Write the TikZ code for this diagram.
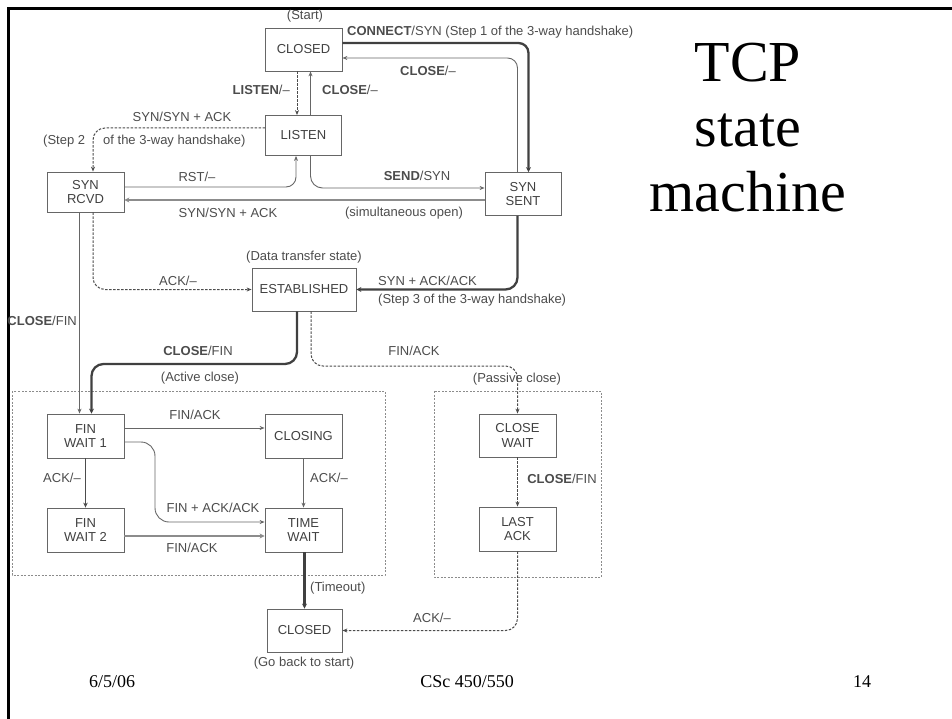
\documentclass[tikz,border=0pt]{standalone}
\usepackage{fontspec}
\setmainfont{Liberation Serif}
\setsansfont{Liberation Sans}
\usetikzlibrary{arrows.meta}
\begin{document}
\begin{tikzpicture}[x=1pt,y=-1pt,
  st/.style={draw=black!60, line width=0.8pt, minimum width=77pt, minimum height=43pt, inner sep=1pt,
    font=\sffamily\fontsize{13}{14.5}\selectfont, text=black!75, align=center},
  lbl/.style={font=\sffamily\fontsize{13}{14.5}\selectfont, text=black!70, inner sep=0pt},
  thinarr/.style={draw=black!60, line width=0.9pt, -{Stealth[length=5pt,width=4pt]}},
  medarr/.style={draw=black!70, line width=1.4pt, -{Stealth[length=5pt,width=4.5pt]}},
  thickarr/.style={draw=black!75, line width=2.3pt, -{Stealth[length=5pt,width=5pt]}},
  simarr/.style={draw=black!45, line width=2.5pt, -{Stealth[length=5pt,width=5pt]}},
  dasharr/.style={draw=black!70, line width=1pt, dash pattern=on 2.5pt off 1.5pt, -{Stealth[length=5pt,width=4pt]}},
  zonebox/.style={draw=black!45, line width=0.7pt, dash pattern=on 2pt off 1.5pt},
]
\useasboundingbox (0,0) rectangle (952,719);
% slide frame
\draw[line width=3pt] (8.5,722) -- (8.5,8.5) -- (955,8.5);

% zones
\draw[zonebox] (12,391) rectangle (385,575);
\draw[zonebox] (434,391) rectangle (601,577);

% states
\node[st] (closedT) at (303.5,49.5) {CLOSED};
\node[st, minimum width=76pt, minimum height=40pt] (listen) at (303.5,135.5) {LISTEN};
\node[st, minimum height=40pt] (synrcvd) at (85.5,192) {SYN\\RCVD};
\node[st, minimum width=76pt] (synsent) at (523,194) {SYN\\SENT};
\node[st, minimum width=104pt] (estab) at (304,289.5) {ESTABLISHED};
\node[st, minimum height=44pt] (finw1) at (85.5,436) {FIN\\WAIT 1};
\node[st, minimum height=44pt] (closing) at (303.5,436) {CLOSING};
\node[st, minimum height=44pt] (finw2) at (85.5,530) {FIN\\WAIT 2};
\node[st, minimum height=44pt] (timewait) at (303.5,530) {TIME\\WAIT};
\node[st] (closewait) at (517.5,435.5) {CLOSE\\WAIT};
\node[st, minimum height=44pt] (lastack) at (517.5,529) {LAST\\ACK};
\node[st, minimum width=75pt] (closedB) at (304.5,630.5) {CLOSED};

% transitions
\draw[thickarr, rounded corners=10pt] ([yshift=6.5pt]closedT.east) -- (528.5,43) -- ([xshift=5.5pt]synsent.north);
\draw[thinarr, rounded corners=10pt] ([xshift=-5.5pt]synsent.north) -- (517.5,58) -- ([yshift=-8.5pt]closedT.east);
\draw[dasharr] ([xshift=-6.5pt]closedT.south) -- ([xshift=-6.5pt]listen.north);
\draw[thinarr] ([xshift=7pt]listen.north) -- ([xshift=7pt]closedT.south);
\draw[dasharr, rounded corners=12pt] ([yshift=7.5pt]listen.west) -- (93,128) -- ([xshift=7.5pt]synrcvd.north);
\draw[thinarr, rounded corners=10pt] ([yshift=5pt]synrcvd.east) -- (296,187) -- ([xshift=-7.5pt]listen.south);
\draw[thinarr, rounded corners=12pt] ([xshift=7pt]listen.south) -- (310.5,188) -- ([yshift=6pt]synsent.west);
\draw[simarr] ([yshift=-6pt]synsent.west) -- ([yshift=-8pt]synrcvd.east);
\draw[dasharr, rounded corners=12pt] ([xshift=7.5pt]synrcvd.south) -- (93,289.5) -- (estab.west);
\draw[thinarr] ([xshift=-6pt]synrcvd.south) -- ([xshift=-6pt]finw1.north);
\draw[thickarr, rounded corners=12pt] ([xshift=-5.5pt]synsent.south) -- (517.5,289.5) -- (estab.east);
\draw[thickarr, rounded corners=12pt] ([xshift=-7pt]estab.south) -- (297,364) -- (91.5,364) -- ([xshift=6pt]finw1.north);
\draw[dasharr, rounded corners=12pt] ([xshift=7pt]estab.south) -- (311,366) -- (517.5,366) -- (closewait.north);
\draw[thinarr] ([yshift=8pt]finw1.east) -- ([yshift=8pt]closing.west);
\draw[thinarr, rounded corners=14pt] ([yshift=-6pt]finw1.east) -- (155,442) -- (155,522) -- ([yshift=8pt]timewait.west);
\draw[medarr] (finw1.south) -- (finw2.north);
\draw[thinarr] (closing.south) -- (timewait.north);
\draw[simarr] ([yshift=-6pt]finw2.east) -- ([yshift=-6pt]timewait.west);
\draw[thickarr] ([xshift=1pt]timewait.south) -- (closedB.north);
\draw[dasharr] (closewait.south) -- (lastack.north);
\draw[dasharr, rounded corners=12pt] (lastack.south) -- (517.5,630.5) -- (closedB.east);

% labels
\node[lbl] (lstart) at (305,16) {(Start)};
\node[lbl, anchor=west] (lconnect) at (347,32) {\textbf{CONNECT}/SYN (Step 1 of the 3-way handshake)};
\node[lbl] (lclose1) at (428,71) {\textbf{CLOSE}/–};
\node[lbl, anchor=east] (llisten) at (290,90) {\textbf{LISTEN}/–};
\node[lbl, anchor=west] (lclose2) at (322,90) {\textbf{CLOSE}/–};
\node[lbl] (lsynsyn1) at (182,117) {SYN/SYN + ACK};
\node[lbl, anchor=west] (lstep2a) at (43,141) {(Step 2};
\node[lbl, anchor=west] (lstep2b) at (103,141) {of the 3-way handshake)};
\node[lbl] (lrst) at (197,177) {RST/–};
\node[lbl] (lsynsyn2) at (228,213) {SYN/SYN + ACK};
\node[lbl] (lsend) at (417,176) {\textbf{SEND}/SYN};
\node[lbl] (lsimul) at (404,213) {(simultaneous open)};
\node[lbl] (ldata) at (304,257) {(Data transfer state)};
\node[lbl] (lack1) at (178,281) {ACK/–};
\node[lbl, anchor=west] (lsynack) at (378,281) {SYN + ACK/ACK};
\node[lbl, anchor=west] (lstep3) at (378,300) {(Step 3 of the 3-way handshake)};
\node[lbl, anchor=east] (lclosefin1) at (77,321) {\textbf{CLOSE}/FIN};
\node[lbl] (lclosefin2) at (198,351) {\textbf{CLOSE}/FIN};
\node[lbl] (lfinack1) at (414,351) {FIN/ACK};
\node[lbl] (lactive) at (200,378) {(Active close)};
\node[lbl] (lpassive) at (517,379) {(Passive close)};
\node[lbl] (lfinack2) at (195,415) {FIN/ACK};
\node[lbl] (lack2) at (62,478) {ACK/–};
\node[lbl] (lack3) at (329,478) {ACK/–};
\node[lbl] (lfinackack) at (213,508) {FIN + ACK/ACK};
\node[lbl] (lfinack3) at (192,548) {FIN/ACK};
\node[lbl] (lclosefin3) at (562,479) {\textbf{CLOSE}/FIN};
\node[lbl, anchor=west] (ltimeout) at (310,588) {(Timeout)};
\node[lbl] (lack4) at (432,618) {ACK/–};
\node[lbl] (lgoback) at (304,663) {(Go back to start)};

% title and footer
\node[font=\fontsize{58}{65}\selectfont, align=center] (title) at (748,128) {TCP\\state\\machine};
\node[font=\fontsize{18}{20}\selectfont] (fdate) at (112,682) {6/5/06};
\node[font=\fontsize{18}{20}\selectfont] (fcourse) at (467,682) {CSc 450/550};
\node[font=\fontsize{18}{20}\selectfont] (fpage) at (862,682) {14};
\end{tikzpicture}
\end{document}
